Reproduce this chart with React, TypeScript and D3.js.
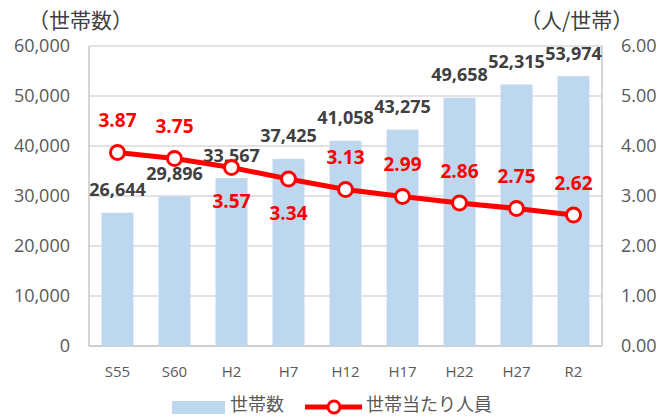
import React from "react";
import * as d3 from "d3";

const categories = ["S55", "S60", "H2", "H7", "H12", "H17", "H22", "H27", "R2"];
const households = [26644, 29896, 33567, 37425, 41058, 43275, 49658, 52315, 53974];
const perHousehold = [3.87, 3.75, 3.57, 3.34, 3.13, 2.99, 2.86, 2.75, 2.62];
// which line labels sit under the point
const labelBelow = [false, false, true, true, false, false, false, false, false];
const leftTicks = [0, 10000, 20000, 30000, 40000, 50000, 60000];
const rightTicks = [0, 1, 2, 3, 4, 5, 6];

const W = 662;
const H = 417;
const m = { left: 89, right: 602, top: 46, bottom: 346 };
const numFont = "'Open Sans', 'DejaVu Sans', sans-serif";
const jpFont = "'Noto Sans CJK JP', sans-serif";

const App = () => {
  const x = d3
    .scaleBand()
    .domain(categories)
    .range([m.left, m.right])
    .paddingInner(0.44)
    .paddingOuter(0.22);
  const yL = d3.scaleLinear().domain([0, 60000]).range([m.bottom, m.top]);
  const yR = d3.scaleLinear().domain([0, 6]).range([m.bottom, m.top]);
  const cx = (c: string) => (x(c) as number) + x.bandwidth() / 2;

  const line = d3
    .line<number>()
    .x((d, i) => cx(categories[i]))
    .y((d) => yR(d));

  const fmt = d3.format(",");

  return (
    <svg
      width={W}
      height={H}
      style={{ position: "absolute", left: 0, top: 0, background: "#fff" }}
    >
      {/* grid */}
      {leftTicks.map((t) => (
        <line
          key={t}
          x1={m.left}
          x2={m.right}
          y1={yL(t)}
          y2={yL(t)}
          stroke={t === 0 ? "#bfbfbf" : "#d9d9d9"}
          strokeWidth={1.3}
        />
      ))}
      <line x1={m.left} x2={m.left} y1={m.top} y2={m.bottom} stroke="#bfbfbf" strokeWidth={1.3} />
      <line x1={m.right} x2={m.right} y1={m.top} y2={m.bottom} stroke="#bfbfbf" strokeWidth={1.3} />

      {/* axis labels */}
      {leftTicks.map((t) => (
        <text
          key={t}
          x={70}
          y={yL(t)}
          dy="0.36em"
          textAnchor="end"
          fontFamily={numFont}
          fontSize={18}
          fill="#595959"
        >
          {fmt(t)}
        </text>
      ))}
      {rightTicks.map((t) => (
        <text
          key={t}
          x={621}
          y={yR(t)}
          dy="0.36em"
          fontFamily={numFont}
          fontSize={18}
          fill="#595959"
        >
          {t.toFixed(2)}
        </text>
      ))}
      {categories.map((c) => (
        <text
          key={c}
          x={cx(c)}
          y={372}
          dy="0.36em"
          textAnchor="middle"
          fontFamily={numFont}
          fontSize={15}
          fill="#595959"
        >
          {c}
        </text>
      ))}

      <text x={28} y={28} fontFamily={jpFont} fontSize={21} fill="#404040">
        （世帯数）
      </text>
      <text x={520} y={28} fontFamily={jpFont} fontSize={21} fill="#404040">
        （人/世帯）
      </text>

      {/* bars */}
      {households.map((v, i) => (
        <rect
          key={i}
          x={x(categories[i])}
          y={yL(v)}
          width={x.bandwidth()}
          height={yL(0) - yL(v)}
          fill="#bdd7ee"
        />
      ))}
      {households.map((v, i) => (
        <text
          key={i}
          x={cx(categories[i])}
          y={yL(v) - 23}
          dy="0.36em"
          textAnchor="middle"
          fontFamily={numFont}
          fontWeight="bold"
          fontSize={18}
          fill="#404040"
        >
          {fmt(v)}
        </text>
      ))}

      {/* line */}
      <path d={line(perHousehold) || ""} fill="none" stroke="#ff0000" strokeWidth={5} />
      {perHousehold.map((v, i) => (
        <circle
          key={i}
          cx={cx(categories[i])}
          cy={yR(v)}
          r={7}
          fill="#fff"
          stroke="#ff0000"
          strokeWidth={3}
        />
      ))}
      {perHousehold.map((v, i) => (
        <text
          key={i}
          x={cx(categories[i])}
          y={yR(v) + (labelBelow[i] ? 34 : -32)}
          dy="0.36em"
          textAnchor="middle"
          fontFamily={numFont}
          fontWeight="bold"
          fontSize={19}
          fill="#ff0000"
        >
          {v.toFixed(2)}
        </text>
      ))}

      {/* legend */}
      <rect x={172} y={401} width={53} height={13} fill="#bdd7ee" />
      <text x={230} y={411} fontFamily={jpFont} fontSize={18} fill="#595959">
        世帯数
      </text>
      <line x1={305} x2={362} y1={407} y2={407} stroke="#ff0000" strokeWidth={5} />
      <circle cx={334} cy={407} r={6} fill="#fff" stroke="#ff0000" strokeWidth={3} />
      <text x={366} y={411} fontFamily={jpFont} fontSize={18} fill="#595959">
        世帯当たり人員
      </text>
    </svg>
  );
};

export default App;
